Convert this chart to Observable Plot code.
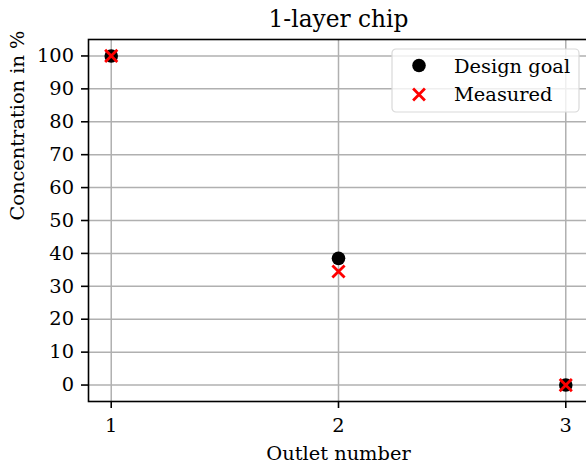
<!DOCTYPE html>
<html>
<head>
<meta charset="utf-8">
<script src="https://cdn.jsdelivr.net/npm/d3@7"></script>
<script src="https://cdn.jsdelivr.net/npm/@observablehq/plot@0.6"></script>
<style>
  html, body { margin: 0; padding: 0; background: #fff; }
</style>
</head>
<body>
<div id="chart"></div>
<script>
const outlets = [1, 2, 3];
const designGoal = [100, 38.5, 0];
const measured = [100, 34.5, 0];
const yTicks = [0, 10, 20, 30, 40, 50, 60, 70, 80, 90, 100];
const xTicks = [1, 2, 3];
const seriesNames = ["Design goal", "Measured"];
const titleText = "1-layer chip";
const xLabel = "Outlet number";
const yLabel = "Concentration in %";

const goalData = outlets.map((o, i) => ({outlet: o, value: designGoal[i]}));
const measData = outlets.map((o, i) => ({outlet: o, value: measured[i]}));

const font = "DejaVu Serif";
const fs = 19.4;

const chart = Plot.plot({
  width: 586,
  height: 464,
  marginTop: 39,
  marginBottom: 63,
  marginLeft: 88,
  marginRight: -2,
  style: {fontFamily: font, fontSize: fs + "px", color: "#000", background: "#fff"},
  x: {domain: [0.9, 3.1], ticks: xTicks},
  y: {domain: [-5, 105], ticks: yTicks},
  marks: [
    Plot.gridX(xTicks, {stroke: "#b0b0b0", strokeOpacity: 1, strokeWidth: 1.5}),
    Plot.gridY(yTicks, {stroke: "#b0b0b0", strokeOpacity: 1, strokeWidth: 1.5}),
    Plot.axisX(xTicks, {tickSize: 7, tickPadding: 10, fontSize: fs, strokeWidth: 1.6,
      tickFormat: d3.format("d"), label: null}),
    Plot.axisY(yTicks, {tickSize: 7, tickPadding: 7.5, fontSize: fs, strokeWidth: 1.6,
      tickFormat: d3.format("d"), label: null}),
    Plot.frame({stroke: "#000", strokeWidth: 1.6}),
    Plot.dot(goalData, {x: "outlet", y: "value", r: 6.8, fill: "#000", stroke: null}),
    Plot.dot(measData, {x: "outlet", y: "value", symbol: "times", r: 5.6, stroke: "#ff0000", strokeWidth: 2.8}),
    Plot.text([titleText], {frameAnchor: "top", dy: -19.5, fontSize: 23.3, lineAnchor: "middle", fill: "#000"}),
    Plot.text([xLabel], {frameAnchor: "bottom", dy: 52, fontSize: fs, lineAnchor: "middle", fill: "#000"}),
    Plot.text([yLabel], {frameAnchor: "left", dx: -71, rotate: -90, fontSize: fs, lineAnchor: "middle", fill: "#000"})
  ]
});

document.getElementById("chart").appendChild(chart);

// Legend box (upper right)
const svg = d3.select(chart);
const lg = svg.append("g").attr("transform", "translate(392,49)");
lg.append("rect").attr("x", 0).attr("y", 0).attr("width", 187).attr("height", 63)
  .attr("rx", 4).attr("fill", "#fff").attr("fill-opacity", 0.8)
  .attr("stroke", "#d9d9d9").attr("stroke-width", 1.2);
lg.append("circle").attr("cx", 27).attr("cy", 16.5).attr("r", 6.8).attr("fill", "#000");
const xs = 5.9, cx2 = 27, cy2 = 45.5;
lg.append("path")
  .attr("d", `M${cx2 - xs},${cy2 - xs}L${cx2 + xs},${cy2 + xs}M${cx2 - xs},${cy2 + xs}L${cx2 + xs},${cy2 - xs}`)
  .attr("stroke", "#ff0000").attr("stroke-width", 2.8).attr("fill", "none");
lg.selectAll("text.lbl").data(seriesNames).join("text")
  .attr("class", "lbl")
  .attr("x", 62).attr("y", (d, i) => 24 + i * 28)
  .attr("text-anchor", "start")
  .attr("font-family", font).attr("font-size", fs).attr("fill", "#000")
  .text(d => d);
</script>
</body>
</html>
